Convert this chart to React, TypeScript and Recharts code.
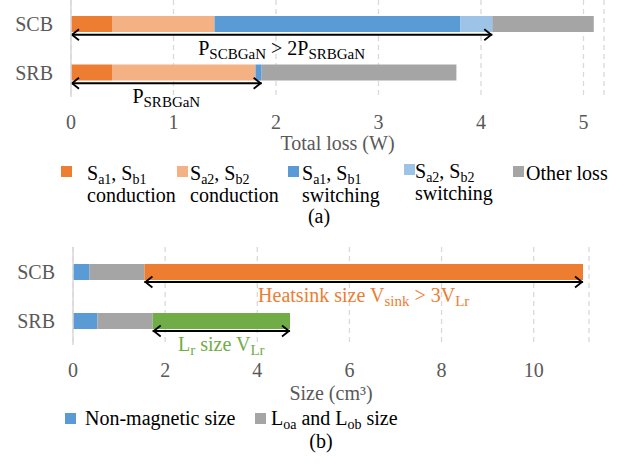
import React from 'react'
import { BarChart, Bar, XAxis, YAxis, CartesianGrid, ReferenceLine } from 'recharts'

const converters = ['SCB', 'SRB']

// (a) loss breakdown, W
const condA = [0.40, 0.40]
const condB = [1.00, 1.40]
const swA = [2.40, 0.06]
const swB = [0.31, 0]
const otherLoss = [0.99, 1.90]
const lossTicks = [0, 1, 2, 3, 4, 5]

// (b) size breakdown, cm3
const nonMagnetic = [0.36, 0.53]
const outputInductor = [1.19, 1.20]
const heatsink = [9.52, 0]
const resonantInductor = [0, 2.98]
const sizeTicks = [0, 2, 4, 6, 8, 10]

const FONT = 'Liberation Serif'
const GREY_TEXT = '#595959'
const ORANGE = '#ED7D31'
const LIGHT_ORANGE = '#F4B183'
const BLUE = '#5B9BD5'
const LIGHT_BLUE = '#9DC3E6'
const GREY = '#A5A5A5'
const GREEN = '#70AD47'

const lossRows = converters.map((name, i) => ({
  name,
  condA: condA[i],
  condB: condB[i],
  swA: swA[i],
  swB: swB[i],
  other: otherLoss[i],
}))

const sizeRows = converters.map((name, i) => ({
  name,
  nonMag: nonMagnetic[i],
  lo: outputInductor[i],
  sink: heatsink[i],
  lr: resonantInductor[i],
}))

// GaN loss = everything but "other"; magnetic part starts after non-magnetic + Lo
const gaNLoss = converters.map((_, i) => condA[i] + condB[i] + swA[i] + swB[i])
const magStart = converters.map((_, i) => nonMagnetic[i] + outputInductor[i])

// [normal, subscript] pairs -> tspans, subscript shifted down
const rich = (parts: [string, string][], subSize = 14) => {
  const out: React.ReactNode[] = []
  let down = false
  parts.forEach(([main, s], i) => {
    if (main) {
      out.push(<tspan key={'m' + i} dy={down ? -4 : 0}>{main}</tspan>)
      down = false
    }
    if (s) {
      out.push(<tspan key={'s' + i} fontSize={subSize} dy={down ? 0 : 4}>{s}</tspan>)
      down = true
    }
  })
  return out
}

const arrowShape = (parts: [string, string][], color: string) => (props: any) => {
  const { x1, x2, y1 } = props
  const y = y1 + 10.5
  const h = 8
  const w = 5.5
  return (
    <g>
      <line x1={x1} y1={y} x2={x2} y2={y} stroke="#000" strokeWidth={1.8} />
      <polyline points={`${x1 + h},${y - w} ${x1 + 1},${y} ${x1 + h},${y + w}`} fill="none" stroke="#000" strokeWidth={1.8} />
      <polyline points={`${x2 - h},${y - w} ${x2 - 1},${y} ${x2 - h},${y + w}`} fill="none" stroke="#000" strokeWidth={1.8} />
      <text x={(x1 + x2) / 2} y={y + 20} textAnchor="middle" fill={color} fontSize={20} fontFamily={FONT}>
        {rich(parts, 15)}
      </text>
    </g>
  )
}

const tickStyle = { fill: GREY_TEXT, fontSize: 20, fontFamily: FONT }

const lossLegend = [
  { color: ORANGE, sq: 61, tx: 87, dy: 0, l1: [['S', 'a1'], [', S', 'b1']], l2: 'conduction' },
  { color: LIGHT_ORANGE, sq: 177, tx: 190, dy: 0, l1: [['S', 'a2'], [', S', 'b2']], l2: 'conduction' },
  { color: BLUE, sq: 288, tx: 302, dy: 0, l1: [['S', 'a1'], [', S', 'b1']], l2: 'switching' },
  { color: LIGHT_BLUE, sq: 404, tx: 415, dy: -2, l1: [['S', 'a2'], [', S', 'b2']], l2: 'switching' },
  { color: GREY, sq: 513, tx: 526, dy: 0, l1: [['Other loss', '']], l2: '' },
] as const

const sizeLegend = [
  { color: BLUE, sq: 65, tx: 85, parts: [['Non-magnetic size', '']] },
  { color: GREY, sq: 255, tx: 271, parts: [['L', 'oa'], [' and L', 'ob'], [' size', '']] },
] as const

export default function App() {
  return (
    <div style={{ position: 'absolute', left: 0, top: 0, width: 634, height: 465, background: '#fff' }}>
      <div style={{ position: 'absolute', left: 0, top: 0 }}>
        <BarChart width={634} height={157} data={lossRows} layout="vertical" margin={{ top: 0, right: 30, left: 0, bottom: 0 }}>
          <CartesianGrid horizontal={false} strokeDasharray="5 4" stroke="#D9D9D9" strokeWidth={1.3} />
          <XAxis
            type="number"
            domain={[0, 5.2]}
            ticks={lossTicks}
            tickLine={false}
            axisLine={false}
            tickSize={0}
            tickMargin={18}
            height={60}
            tick={tickStyle}
            label={{ value: 'Total loss (W)', position: 'insideBottom', offset: 7, fill: GREY_TEXT, fontSize: 20, fontFamily: FONT }}
          />
          <YAxis
            type="category"
            dataKey="name"
            width={71}
            tickLine={false}
            tickSize={0}
            tickMargin={18}
            axisLine={{ stroke: '#D9D9D9', strokeWidth: 1.5 }}
            tick={tickStyle}
          />
          <Bar dataKey="condA" stackId="a" fill={ORANGE} barSize={16} isAnimationActive={false} />
          <Bar dataKey="condB" stackId="a" fill={LIGHT_ORANGE} barSize={16} isAnimationActive={false} />
          <Bar dataKey="swA" stackId="a" fill={BLUE} barSize={16} isAnimationActive={false} />
          <Bar dataKey="swB" stackId="a" fill={LIGHT_BLUE} barSize={16} isAnimationActive={false} />
          <Bar dataKey="other" stackId="a" fill={GREY} barSize={16} isAnimationActive={false} />
          <ReferenceLine
            segment={[{ x: 0, y: 'SCB' }, { x: gaNLoss[0], y: 'SCB' }]}
            ifOverflow="visible"
            shape={arrowShape([['P', 'SCBGaN'], [' > 2P', 'SRBGaN']], '#000')}
          />
          <ReferenceLine
            segment={[{ x: 0, y: 'SRB' }, { x: gaNLoss[1], y: 'SRB' }]}
            ifOverflow="visible"
            shape={arrowShape([['P', 'SRBGaN']], '#000')}
          />
        </BarChart>
      </div>

      <div style={{ position: 'absolute', left: 0, top: 247 }}>
        <BarChart width={634} height={158} data={sizeRows} layout="vertical" margin={{ top: 0, right: 45, left: 0, bottom: 0 }}>
          <CartesianGrid horizontal={false} strokeDasharray="5 4" stroke="#D9D9D9" strokeWidth={1.3} />
          <XAxis
            type="number"
            domain={[0, 11.2]}
            ticks={sizeTicks}
            tickLine={false}
            axisLine={false}
            tickSize={0}
            tickMargin={18}
            height={60}
            tick={tickStyle}
            label={{ value: 'Size (cm³)', position: 'insideBottom', offset: 5, fill: GREY_TEXT, fontSize: 20, fontFamily: FONT }}
          />
          <YAxis
            type="category"
            dataKey="name"
            width={73}
            tickLine={false}
            tickSize={0}
            tickMargin={18}
            axisLine={{ stroke: '#D9D9D9', strokeWidth: 1.5 }}
            tick={tickStyle}
          />
          <Bar dataKey="nonMag" stackId="s" fill={BLUE} barSize={16} isAnimationActive={false} />
          <Bar dataKey="lo" stackId="s" fill={GREY} barSize={16} isAnimationActive={false} />
          <Bar dataKey="sink" stackId="s" fill={ORANGE} barSize={16} isAnimationActive={false} />
          <Bar dataKey="lr" stackId="s" fill={GREEN} barSize={16} isAnimationActive={false} />
          <ReferenceLine
            segment={[{ x: magStart[0], y: 'SCB' }, { x: magStart[0] + heatsink[0], y: 'SCB' }]}
            ifOverflow="visible"
            shape={arrowShape([['Heatsink size V', 'sink'], [' > 3V', 'Lr']], ORANGE)}
          />
          <ReferenceLine
            segment={[{ x: magStart[1], y: 'SRB' }, { x: magStart[1] + resonantInductor[1], y: 'SRB' }]}
            ifOverflow="visible"
            shape={arrowShape([['L', 'r'], [' size V', 'Lr']], GREEN)}
          />
        </BarChart>
      </div>

      <svg width={634} height={465} style={{ position: 'absolute', left: 0, top: 0, pointerEvents: 'none' }}>
        {lossLegend.map((it, i) => (
          <g key={i}>
            <rect x={it.sq} y={166 + it.dy} width={11} height={11} fill={it.color} />
            <text x={it.tx} y={180 + it.dy} fontSize={20} fontFamily={FONT} fill="#000">
              {rich(it.l1 as any)}
            </text>
            {it.l2 ? (
              <text x={it.tx} y={202 + it.dy} fontSize={20} fontFamily={FONT} fill="#000">{it.l2}</text>
            ) : null}
          </g>
        ))}
        <text x={319} y={223} textAnchor="middle" fontSize={20} fontFamily={FONT} fill="#000">(a)</text>

        {sizeLegend.map((it, i) => (
          <g key={i}>
            <rect x={it.sq} y={413} width={11} height={11} fill={it.color} />
            <text x={it.tx} y={425} fontSize={20} fontFamily={FONT} fill="#000">
              {rich(it.parts as any)}
            </text>
          </g>
        ))}
        <text x={321} y={448} textAnchor="middle" fontSize={20} fontFamily={FONT} fill="#000">(b)</text>
      </svg>
    </div>
  )
}
